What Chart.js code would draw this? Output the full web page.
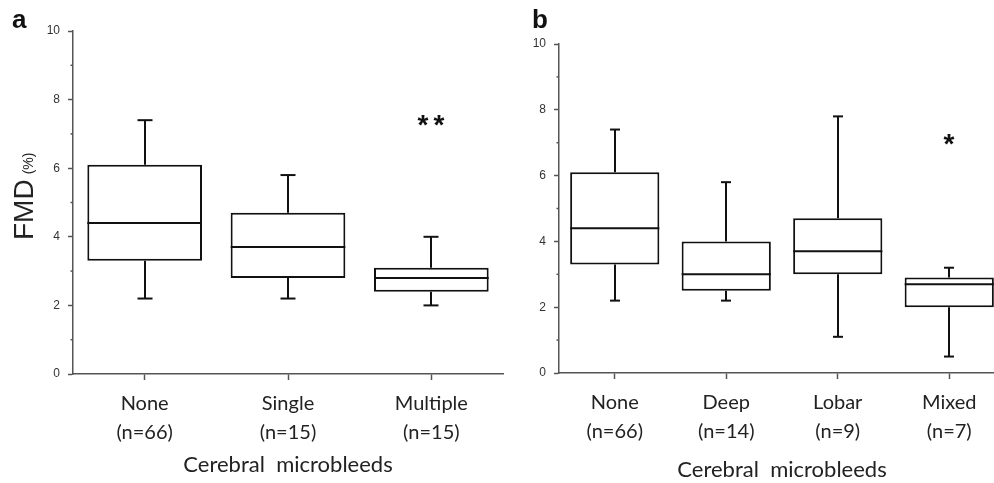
<!DOCTYPE html>
<html>
<head>
<meta charset="utf-8">
<script src="https://cdn.jsdelivr.net/npm/chart.js@4"></script>
<style>
  html, body { margin: 0; padding: 0; background: #fff; overflow: hidden; width: 994px; height: 483px; }
  body { position: relative; }
  #chartA { position: absolute; left: 0; top: 0; }
  #wrapB { position: absolute; left: 500px; top: 0; width: 494px; height: 483px; overflow: hidden; }
  #chartB { position: absolute; left: 0; top: 0; }
</style>
</head>
<body>
<canvas id="chartA" width="505" height="483"></canvas>
<div id="wrapB"><canvas id="chartB" width="505" height="483"></canvas></div>
<script>
// panel a: by number of microbleeds
const catsA = [['None', '(n=66)'], ['Single', '(n=15)'], ['Multiple', '(n=15)']];
const q1A = [3.3, 2.8, 2.4];
const q3A = [6.1, 4.7, 3.1];
const medA = [4.4, 3.7, 2.8];
const lowA = [2.2, 2.2, 2.0];
const highA = [7.4, 5.8, 4.0];
const sigA = ['', '', '**'];

// panel b: by location
const catsB = [['None', '(n=66)'], ['Deep', '(n=14)'], ['Lobar', '(n=9)'], ['Mixed', '(n=7)']];
const q1B = [3.3, 2.5, 3.0, 2.0];
const q3B = [6.1, 4.0, 4.7, 2.9];
const medB = [4.4, 3.0, 3.7, 2.7];
const lowB = [2.2, 2.2, 1.1, 0.5];
const highB = [7.4, 5.8, 7.8, 3.2];
const sigB = ['', '', '', '*'];

const yMin = 0, yMax = 10;
const yLabelStep = 2;
const xTitle = 'Cerebral  microbleeds';

const LINE = '#111';
const AXIS = '#555';
const TEXT = '#222';

// whiskers, medians, asterisks, minor ticks, panel letter and y title
const boxExtra = {
    id: 'boxExtra',
    afterDatasetsDraw(chart, args, o) {
        const ctx = chart.ctx;
        const y = chart.scales.y;
        const area = chart.chartArea;
        const meta = chart.getDatasetMeta(0);
        ctx.save();
        ctx.strokeStyle = LINE;
        ctx.lineWidth = 2;
        ctx.lineCap = 'butt';
        meta.data.forEach((bar, i) => {
            const half = bar.width / 2;
            const x = Math.round(bar.x);
            const line = (x1, y1, x2, y2) => {
                ctx.beginPath(); ctx.moveTo(x1, y1); ctx.lineTo(x2, y2); ctx.stroke();
            };
            const yMed = y.getPixelForValue(o.med[i]);
            line(bar.x - half, yMed, bar.x + half, yMed);
            const yQ1 = y.getPixelForValue(o.q1[i]);
            const yQ3 = y.getPixelForValue(o.q3[i]);
            const yLo = y.getPixelForValue(o.low[i]);
            const yHi = y.getPixelForValue(o.high[i]);
            line(x, yQ3, x, yHi);
            line(x - o.cap / 2, yHi, x + o.cap / 2, yHi);
            line(x, yQ1, x, yLo);
            line(x - o.cap / 2, yLo, x + o.cap / 2, yLo);

            const stars = o.sig[i];
            if (stars) {
                ctx.fillStyle = '#111';
                ctx.font = 'bold 28px "Liberation Sans", Arial, sans-serif';
                ctx.textAlign = 'center';
                ctx.textBaseline = 'alphabetic';
                const m = ctx.measureText('*');
                const cy = y.getPixelForValue(o.sigY);
                const base = cy + (m.actualBoundingBoxAscent - m.actualBoundingBoxDescent) / 2;
                const n = stars.length;
                for (let k = 0; k < n; k++) {
                    ctx.fillText('*', x + (k - (n - 1) / 2) * 16, base);
                }
            }
        });

        // short minor ticks at odd values
        ctx.strokeStyle = AXIS;
        ctx.lineWidth = 1.5;
        for (let v = yMin + 1; v < yMax; v += yLabelStep) {
            const py = y.getPixelForValue(v);
            ctx.beginPath(); ctx.moveTo(area.left - 2.5, py); ctx.lineTo(area.left, py); ctx.stroke();
        }

        // panel letter
        ctx.fillStyle = '#111';
        ctx.font = 'bold 26px "Liberation Sans", Arial, sans-serif';
        ctx.textAlign = 'left';
        ctx.textBaseline = 'alphabetic';
        ctx.fillText(o.letter, o.letterX, 28);

        // y title: big FMD + small (%)
        if (o.yTitle) {
            ctx.save();
            ctx.translate(33, 240);
            ctx.rotate(-Math.PI / 2);
            ctx.fillStyle = TEXT;
            ctx.font = '28px "Liberation Sans", Arial, sans-serif';
            ctx.fillText('FMD', 0, 0);
            const w = ctx.measureText('FMD').width;
            ctx.font = '14px "Liberation Sans", Arial, sans-serif';
            ctx.fillText('(%)', w + 5, 0);
            ctx.restore();
        }
        ctx.restore();
    }
};

function makeBoxChart(id, cats, q1, q3, med, low, high, sig, opt) {
    return new Chart(document.getElementById(id), {
        type: 'bar',
        data: {
            labels: cats,
            datasets: [{
                data: q1.map((v, i) => [v, q3[i]]),
                backgroundColor: '#fff',
                borderColor: LINE,
                borderWidth: 2,
                borderSkipped: false,
                barPercentage: 0.8,
                categoryPercentage: 1
            }]
        },
        options: {
            responsive: false,
            animation: false,
            layout: { padding: { top: opt.top, right: opt.right, left: 0, bottom: 0 } },
            plugins: {
                legend: { display: false },
                tooltip: { enabled: false },
                boxExtra: {
                    q1: q1, q3: q3, med: med, low: low, high: high, sig: sig,
                    sigY: opt.sigY, cap: opt.cap,
                    letter: opt.letter, letterX: opt.letterX, yTitle: opt.yTitle
                }
            },
            scales: {
                x: {
                    grid: { drawOnChartArea: false, offset: false, tickLength: 6, tickColor: AXIS, tickWidth: 1.5 },
                    border: { color: AXIS, width: 1.5 },
                    ticks: {
                        font: { family: 'Lato', size: 20, lineHeight: 1.45 },
                        color: TEXT,
                        padding: 9,
                        maxRotation: 0,
                        autoSkip: false
                    },
                    title: {
                        display: true,
                        text: xTitle,
                        font: { family: 'Lato', size: 22 },
                        color: TEXT,
                        padding: { top: 0, bottom: opt.titlePad }
                    },
                    afterFit: s => { s.height = opt.xHeight; }
                },
                y: {
                    min: yMin,
                    max: yMax,
                    ticks: {
                        stepSize: 1,
                        autoSkip: false,
                        callback: v => (v % yLabelStep === 0 ? v : ''),
                        font: { family: '"Liberation Sans Narrow", "Liberation Sans", sans-serif', size: 12 },
                        color: '#333',
                        padding: 8
                    },
                    grid: {
                        drawOnChartArea: false,
                        tickLength: 5,
                        tickWidth: 1.5,
                        tickColor: c => (c.tick && c.tick.value % yLabelStep === 0 ? AXIS : 'rgba(0,0,0,0)')
                    },
                    border: { color: AXIS, width: 1.5 },
                    afterFit: s => { s.width = opt.yWidth; }
                }
            }
        },
        plugins: [boxExtra]
    });
}

makeBoxChart('chartA', catsA, q1A, q3A, medA, lowA, highA, sigA, {
    top: 31, right: 2, xHeight: 109, yWidth: 73, titlePad: 5,
    sigY: 7.4, cap: 15, letter: 'a', letterX: 12, yTitle: true
});

makeBoxChart('chartB', catsB, q1B, q3B, medB, lowB, highB, sigB, {
    top: 44, right: 0, xHeight: 110, yWidth: 59, titlePad: 0,
    sigY: 7.1, cap: 10, letter: 'b', letterX: 32, yTitle: false
});
</script>
</body>
</html>
